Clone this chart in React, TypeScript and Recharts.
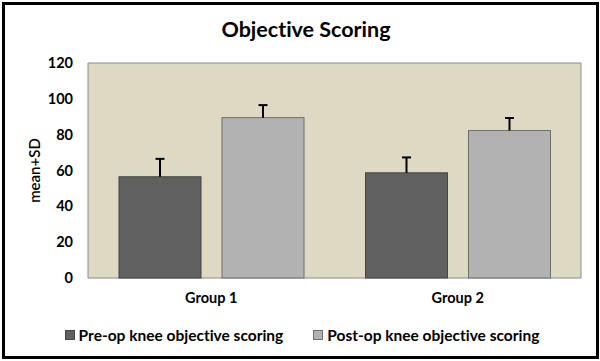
import { Bar, BarChart, CartesianGrid, Legend, XAxis, YAxis } from "recharts";

// values (mean, SD)
const groups = ["Group 1", "Group 2"];
const preMean = [56.5, 58.7];
const preSd = [10, 8.6];
const postMean = [89.5, 82.3];
const postSd = [7, 7];
const yTicks = [0, 20, 40, 60, 80, 100, 120];

const data = groups.map((g, i) => ({
  group: g,
  pre: preMean[i],
  preSd: preSd[i],
  post: postMean[i],
  postSd: postSd[i],
}));

const FONT = "Lato, 'Open Sans', sans-serif";
const PLOT_BG = "#ddd9c3";
const PLOT_EDGE = "#8c8c8c";
const PRE = "#606060";
const PRE_EDGE = "#454545";
const POST = "#b2b2b2";
const POST_EDGE = "#6e6e6e";

const series = [
  { key: "pre", sd: "preSd", name: "Pre-op knee objective scoring", fill: PRE, stroke: PRE_EDGE },
  { key: "post", sd: "postSd", name: "Post-op knee objective scoring", fill: POST, stroke: POST_EDGE },
];

// bar + one-sided (upper) SD whisker, scaled from the bar's own geometry
function withErrorBar(valueKey: string, sdKey: string) {
  return (props: any) => {
    const { x, y, width, height, fill, stroke, payload } = props;
    const v = payload[valueKey];
    const perUnit = v ? height / v : 0;
    const top = y - payload[sdKey] * perUnit;
    const cx = x + width / 2;
    return (
      <g>
        <rect x={x} y={y} width={width} height={height} fill={fill} stroke={stroke} strokeWidth={1} />
        <line x1={cx} y1={y} x2={cx} y2={top} stroke="#000" strokeWidth={2} />
        <line x1={cx - 4.5} y1={top} x2={cx + 4.5} y2={top} stroke="#000" strokeWidth={2} />
      </g>
    );
  };
}

function LegendBox() {
  return (
    <div
      style={{
        display: "flex",
        justifyContent: "center",
        alignItems: "center",
        gap: 30,
        height: 36,
        paddingLeft: 23,
        fontFamily: FONT,
        fontWeight: 700,
        fontSize: 15.5,
        fontVariantLigatures: "none",
        color: "#000",
      }}
    >
      {series.map((s) => (
        <div key={s.key} style={{ display: "flex", alignItems: "center", gap: 4 }}>
          <span
            style={{
              width: 8,
              height: 8,
              background: s.fill,
              border: `1px solid ${s.stroke}`,
              display: "inline-block",
            }}
          />
          <span>{s.name}</span>
        </div>
      ))}
    </div>
  );
}

const tickStyle = { fontSize: 14.5, fontWeight: 700, fill: "#000", fontFamily: FONT };

export default function App() {
  return (
    <div style={{ position: "absolute", left: 0, top: 0, width: 600, height: 361, background: "#fff" }}>
      <div
        style={{
          position: "absolute",
          left: 2,
          top: 2,
          width: 597,
          height: 357,
          border: "3px solid #000",
          boxSizing: "border-box",
        }}
      />
      <div
        style={{
          position: "absolute",
          top: 16,
          left: 6,
          width: 600,
          textAlign: "center",
          fontFamily: FONT,
          fontWeight: 700,
          fontSize: 21.5,
          fontVariantLigatures: "none",
        }}
      >
        Objective Scoring
      </div>
      <BarChart
        width={600}
        height={361}
        data={data}
        margin={{ top: 63, right: 19, bottom: 8, left: 0 }}
        barSize={82}
        barGap={21}
      >
        <CartesianGrid
          fill={PLOT_BG}
          stroke={PLOT_EDGE}
          horizontalCoordinatesGenerator={({ offset }: any) => [offset.top, offset.top + offset.height]}
          verticalCoordinatesGenerator={({ offset }: any) => [offset.left, offset.left + offset.width]}
        />
        <XAxis
          dataKey="group"
          height={39}
          tickLine={false}
          axisLine={false}
          tickSize={0}
          tickMargin={15}
          tick={tickStyle}
        />
        <YAxis
          width={88}
          domain={[0, 120]}
          ticks={yTicks}
          tickLine={false}
          axisLine={false}
          tickSize={0}
          tickMargin={15}
          tick={tickStyle}
          label={{
            value: "mean+SD",
            angle: -90,
            position: "center",
            dx: -9,
            style: { fontSize: 15, fill: "#000", fontFamily: FONT, fontWeight: 600 },
          }}
        />
        <Legend verticalAlign="bottom" content={() => <LegendBox />} />
        {series.map((s) => (
          <Bar
            key={s.key}
            dataKey={s.key}
            name={s.name}
            fill={s.fill}
            stroke={s.stroke}
            shape={withErrorBar(s.key, s.sd)}
            isAnimationActive={false}
          />
        ))}
      </BarChart>
    </div>
  );
}
